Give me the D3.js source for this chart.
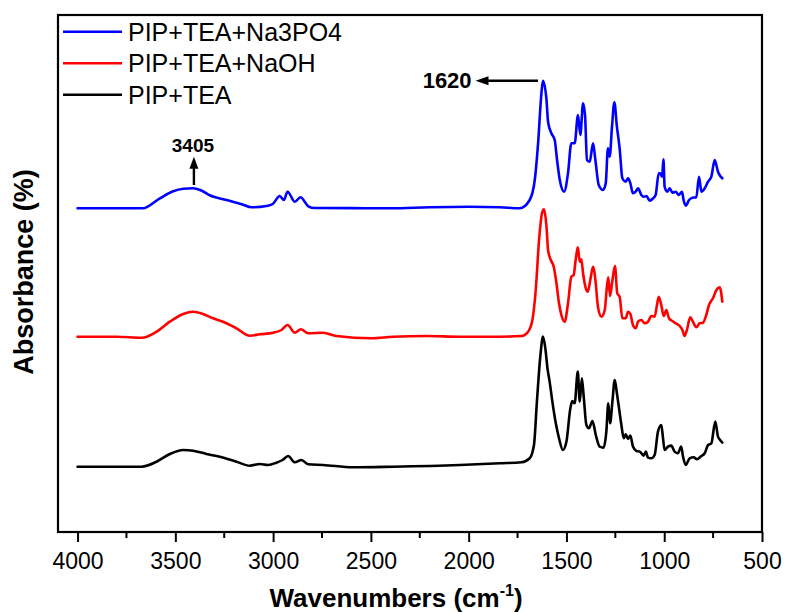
<!DOCTYPE html>
<html>
<head>
<meta charset="utf-8">
<script src="https://cdn.jsdelivr.net/npm/d3@7"></script>
<style>
  html, body { margin: 0; padding: 0; background: #fff; }
  svg { display: block; }
  text { font-family: Arial, "Liberation Sans", sans-serif; }
</style>
</head>
<body>
<svg id="chart" width="785" height="613"></svg>
<script>
// FTIR spectra: [wavenumber (cm-1), absorbance above each spectrum's own baseline]
const seriesNames = ["PIP+TEA+Na3PO4", "PIP+TEA+NaOH", "PIP+TEA"];
const seriesColors = ["#0000ff", "#ff0000", "#000000"];
// vertical stacking offsets so the three spectra don't overlap
const seriesOffsets = [3.237, 1.953, 0.653];

const na3po4 = [
  [4000,0],[3800,0],[3666,0],[3579,0.10],[3511,0.17],[3460,0.195],[3410,0.20],[3370,0.18],[3324,0.13],
  [3238,0.083],[3160,0.04],[3110,0.01],[3034,0.023],[3002,0.043],[2966,0.123],[2945,0.083],[2926,0.166],
  [2889,0.066],[2860,0.11],[2820,0.02],[2787,0.003],[2600,0.002],[2400,0.0],[2200,0.01],[2000,0.015],
  [1841,0.01],[1739,0.0],[1688,0.083],[1662,0.283],[1645,0.65],[1628,1.15],[1620,1.276],[1602,1.083],
  [1594,0.866],[1577,0.75],[1560,0.683],[1548,0.483],[1534,0.283],[1512,0.166],[1492,0.35],[1475,0.65],
  [1458,0.65],[1441,0.933],[1429,0.733],[1415,1.05],[1405,0.933],[1395,0.483],[1381,0.466],[1364,0.65],
  [1352,0.483],[1335,0.233],[1313,0.183],[1299,0.25],[1288,0.6],[1279,0.516],[1267,0.816],[1255,1.06],
  [1242,0.816],[1228,0.6],[1214,0.3],[1197,0.266],[1185,0.3],[1173,0.25],[1160,0.15],[1146,0.166],
  [1134,0.2],[1117,0.133],[1104,0.116],[1091,0.123],[1074,0.076],[1057,0.1],[1044,0.133],[1028,0.35],
  [1020,0.35],[1011,0.316],[1004,0.49],[998,0.216],[984,0.166],[972,0.2],[958,0.156],[941,0.166],
  [926,0.133],[909,0.166],[901,0.083],[890,0.026],[873,0.083],[856,0.106],[836,0.11],[822,0.316],
  [810,0.166],[793,0.2],[776,0.266],[759,0.316],[742,0.483],[725,0.366],[717,0.333],[703,0.3]
];

const naoh = [
  [4000,0],[3800,0.0],[3673,-0.01],[3596,0.05],[3528,0.15],[3460,0.227],[3409,0.25],[3358,0.227],
  [3307,0.184],[3256,0.15],[3187,0.084],[3119,0.01],[3068,0.024],[3000,0.04],[2957,0.067],[2926,0.117],
  [2889,0.04],[2858,0.074],[2821,0.034],[2744,0.04],[2676,0.007],[2497,-0.016],[2387,0],[2216,0.007],
  [2046,0],[1841,0],[1730,0.007],[1696,0.05],[1674,0.167],[1657,0.467],[1640,0.967],[1625,1.234],
  [1615,1.274],[1602,1.10],[1594,0.867],[1580,0.767],[1565,0.70],[1551,0.534],[1538,0.334],[1526,0.217],
  [1509,0.15],[1492,0.334],[1475,0.60],[1463,0.617],[1453,0.767],[1442,0.894],[1432,0.75],[1424,0.774],
  [1415,0.634],[1401,0.484],[1391,0.45],[1378,0.567],[1364,0.70],[1350,0.534],[1339,0.30],[1321,0.20],
  [1304,0.267],[1293,0.50],[1286,0.594],[1277,0.407],[1267,0.534],[1252,0.707],[1240,0.434],[1228,0.40],
  [1214,0.184],[1197,0.184],[1185,0.25],[1173,0.227],[1160,0.117],[1146,0.084],[1134,0.15],[1117,0.167],
  [1100,0.134],[1083,0.15],[1066,0.207],[1049,0.20],[1037,0.317],[1028,0.40],[1015,0.317],[1003,0.207],
  [989,0.267],[976,0.184],[958,0.157],[941,0.134],[921,0.107],[907,0.067],[896,0.007],[884,0.067],
  [867,0.194],[853,0.15],[836,0.094],[819,0.134],[802,0.14],[785,0.217],[771,0.317],[751,0.384],
  [733,0.467],[716,0.494],[703,0.35]
];

const pipTea = [
  [4000,0],[3800,0],[3673,0],[3596,0.05],[3528,0.127],[3460,0.167],[3409,0.16],[3341,0.127],
  [3273,0.10],[3187,0.05],[3119,0.01],[3068,0.027],[3026,0.017],[2983,0.04],[2952,0.067],[2923,0.107],
  [2889,0.044],[2855,0.067],[2821,0.024],[2744,0.017],[2591,-0.006],[2387,0],[2046,0.017],[1841,0.034],
  [1730,0.044],[1688,0.084],[1666,0.217],[1651,0.651],[1633,1.117],[1620,1.301],[1608,1.184],[1597,0.984],
  [1586,0.851],[1572,0.651],[1556,0.451],[1538,0.284],[1518,0.167],[1500,0.251],[1480,0.584],[1470,0.657],
  [1458,0.634],[1442,0.951],[1432,0.651],[1421,0.884],[1411,0.684],[1398,0.417],[1385,0.384],[1367,0.457],
  [1350,0.317],[1330,0.201],[1310,0.191],[1296,0.351],[1286,0.634],[1277,0.434],[1265,0.651],[1253,0.867],
  [1242,0.734],[1231,0.584],[1219,0.417],[1207,0.284],[1197,0.324],[1185,0.277],[1173,0.311],[1160,0.201],
  [1142,0.157],[1125,0.151],[1105,0.111],[1094,0.151],[1083,0.091],[1066,0.084],[1049,0.117],[1032,0.351],
  [1015,0.417],[1007,0.301],[998,0.167],[981,0.201],[964,0.211],[947,0.151],[930,0.134],[913,0.201],
  [904,0.101],[890,0.017],[870,0.084],[849,0.094],[833,0.074],[810,0.107],[793,0.134],[776,0.217],
  [759,0.234],[739,0.451],[725,0.301],[717,0.274],[703,0.241]
];

const spectra = [na3po4, naoh, pipTea];

const xTicks = [4000, 3500, 3000, 2500, 2000, 1500, 1000, 500];
const xMinorTicks = [3750, 3250, 2750, 2250, 1750, 1250, 750];

// annotated band positions
const peakLabels = ["1620", "3405"];

const svg = d3.select("#chart");
const plot = { left: 58, right: 762, top: 15, bottom: 532 };

const x = d3.scaleLinear().domain([4100, 500]).range([plot.left, plot.right]);
const y = d3.scaleLinear().domain([0, 5.17]).range([plot.bottom, plot.top]);

// spectra
const line = d3.line()
  .x(d => x(d[0]))
  .y(d => y(d[1]))
  .curve(d3.curveMonotoneX);

spectra.forEach((s, i) => {
  svg.append("path")
    .datum(s.map(p => [p[0], p[1] + seriesOffsets[i]]))
    .attr("fill", "none")
    .attr("stroke", seriesColors[i])
    .attr("stroke-width", 2.6)
    .attr("stroke-linejoin", "round")
    .attr("stroke-linecap", "round")
    .attr("d", line);
});

// frame
svg.append("rect")
  .attr("x", plot.left).attr("y", plot.top)
  .attr("width", plot.right - plot.left).attr("height", plot.bottom - plot.top)
  .attr("fill", "none").attr("stroke", "#000").attr("stroke-width", 2.2);

// bottom axis with major and minor ticks
const xAxis = d3.axisBottom(x).tickValues(xTicks).tickSize(10).tickPadding(10).tickFormat(d3.format("d"));
const gx = svg.append("g").attr("transform", `translate(0,${plot.bottom})`).call(xAxis);
gx.select(".domain").remove();
gx.selectAll(".tick line").attr("stroke", "#000").attr("stroke-width", 2);
gx.selectAll(".tick text")
  .attr("fill", "#000")
  .style("font-size", "23px")
  .attr("dy", "0.72em");

svg.append("g").selectAll("line").data(xMinorTicks).join("line")
  .attr("x1", d => x(d)).attr("x2", d => x(d))
  .attr("y1", plot.bottom).attr("y2", plot.bottom + 6)
  .attr("stroke", "#000").attr("stroke-width", 2);

// axis titles
const xTitle = svg.append("text")
  .attr("x", 396).attr("y", 607)
  .attr("text-anchor", "middle")
  .style("font-size", "26px").style("font-weight", "bold");
xTitle.append("tspan").text("Wavenumbers (cm");
xTitle.append("tspan").text("-1").style("font-size", "16px").attr("dy", -11);
xTitle.append("tspan").text(")").attr("dy", 11);

svg.append("text")
  .attr("transform", "translate(33,272) rotate(-90)")
  .attr("text-anchor", "middle")
  .style("font-size", "27px").style("font-weight", "bold")
  .text("Absorbance (%)");

// legend
const legend = svg.append("g");
seriesNames.forEach((name, i) => {
  const ly = 31.7 + i * 31.5;
  legend.append("line")
    .attr("x1", 63).attr("x2", 122).attr("y1", ly).attr("y2", ly)
    .attr("stroke", seriesColors[i]).attr("stroke-width", 2.6);
  legend.append("text")
    .attr("x", 128).attr("y", ly + 8.8)
    .style("font-size", "25px")
    .text(name);
});

// arrowhead helper
function arrowHead(tipX, tipY, dir, len, half) {
  // dir: "left" or "up"
  if (dir === "left") {
    return `M${tipX},${tipY} L${tipX + len},${tipY - half} L${tipX + len},${tipY + half} Z`;
  }
  return `M${tipX},${tipY} L${tipX - half},${tipY + len} L${tipX + half},${tipY + len} Z`;
}

// 1620 band: horizontal arrow from the peak
const p1620 = +peakLabels[0];
const yTop = y(1.276 + seriesOffsets[0]);
const ann = svg.append("g");
ann.append("line")
  .attr("x1", x(p1620) - 5).attr("x2", x(1965) + 10)
  .attr("y1", yTop).attr("y2", yTop)
  .attr("stroke", "#000").attr("stroke-width", 2.4);
ann.append("path").attr("d", arrowHead(x(1965), yTop, "left", 13, 4.5)).attr("fill", "#000");
ann.append("text")
  .attr("x", x(1985)).attr("y", yTop + 7.5)
  .attr("text-anchor", "end")
  .style("font-size", "22px").style("font-weight", "bold")
  .text(peakLabels[0]);

// 3405 band: vertical arrow above the O-H hump
const p3405 = +peakLabels[1];
const base3405 = y(0.233 + seriesOffsets[0]);
const tip3405 = y(0.516 + seriesOffsets[0]);
ann.append("line")
  .attr("x1", x(p3405)).attr("x2", x(p3405))
  .attr("y1", base3405).attr("y2", tip3405 + 10)
  .attr("stroke", "#000").attr("stroke-width", 2.4);
ann.append("path").attr("d", arrowHead(x(p3405), tip3405, "up", 12, 4.5)).attr("fill", "#000");
ann.append("text")
  .attr("x", x(p3405) - 1).attr("y", tip3405 - 5)
  .attr("text-anchor", "middle")
  .style("font-size", "19px").style("font-weight", "bold")
  .text(peakLabels[1]);
</script>
</body>
</html>
